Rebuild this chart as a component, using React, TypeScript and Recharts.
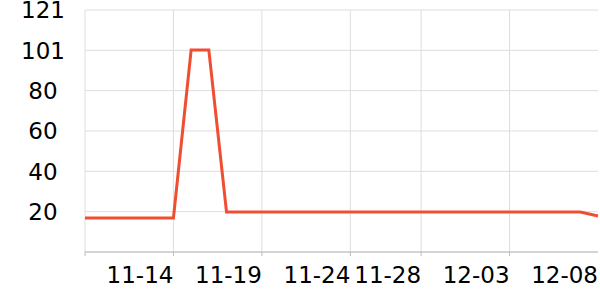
import React from 'react';
import { LineChart, Line, XAxis, YAxis, CartesianGrid } from 'recharts';

const dates = [
  '11-09','11-10','11-11','11-12','11-13','11-14','11-15','11-16','11-17','11-18',
  '11-19','11-20','11-21','11-22','11-23','11-24','11-25','11-26','11-27','11-28',
  '11-29','11-30','12-01','12-02','12-03','12-04','12-05','12-06','12-07','12-08',
];
const values = [
  17, 17, 17, 17, 17, 17, 101, 101, 20, 20,
  20, 20, 20, 20, 20, 20, 20, 20, 20, 20,
  20, 20, 20, 20, 20, 20, 20, 20, 20, 18,
];
const xTickDates = ['11-09', '11-14', '11-19', '11-24', '11-28', '12-03', '12-08'];
const yMax = 121;
const yTickLabels = ['20', '40', '60', '80', '101', '121'];

const data = dates.map((d, i) => ({ idx: i, date: d, value: values[i] }));
const xTicks = xTickDates.map((d) => dates.indexOf(d));
const yTicks = yTickLabels.map((_, k) => (yMax * (k + 1)) / yTickLabels.length);

const FONT = 'DejaVu Sans';

const XTick = (props: any) => {
  const { x, y, payload } = props;
  const i = payload.value as number;
  const label = i === 0 ? '' : dates[i];
  return (
    <g>
      <line x1={x} y1={y - 8} x2={x} y2={y - 4} stroke={i === dates.length - 1 ? 'none' : '#bbbbbb'} />
      <text x={x} y={y + 23} textAnchor="end" fontFamily={FONT} fontSize={23} fill="#000">
        {label}
      </text>
    </g>
  );
};

const YTick = (props: any) => {
  const { y, index } = props;
  return (
    <text x={43} y={y} dy="0.36em" textAnchor="middle" fontFamily={FONT} fontSize={23} fill="#000">
      {yTickLabels[index]}
    </text>
  );
};

export default function App() {
  return (
    <div style={{ position: 'absolute', left: 0, top: 0, width: 600, height: 300, background: '#fff' }}>
      <LineChart width={600} height={300} data={data} margin={{ top: 10, right: 2, left: 0, bottom: 0 }}>
        <CartesianGrid
          stroke="#dddddd"
          verticalCoordinatesGenerator={(p: any) => {
            const { offset } = p;
            const step = offset.width / (dates.length - 1);
            return xTicks.filter((t) => t !== dates.length - 1).map((t) => offset.left + t * step);
          }}
        />
        <XAxis
          dataKey="idx"
          type="number"
          domain={[0, dates.length - 1]}
          ticks={xTicks}
          interval={0}
          height={48}
          axisLine={{ stroke: '#bbbbbb' }}
          tickLine={false}
          tick={<XTick />}
        />
        <YAxis
          type="number"
          domain={[0, yMax]}
          ticks={yTicks}
          interval={0}
          width={85}
          axisLine={false}
          tickLine={false}
          tick={<YTick />}
        />
        <Line
          type="linear"
          dataKey="value"
          stroke="#f04e31"
          strokeWidth={3}
          dot={false}
          isAnimationActive={false}
        />
      </LineChart>
    </div>
  );
}
